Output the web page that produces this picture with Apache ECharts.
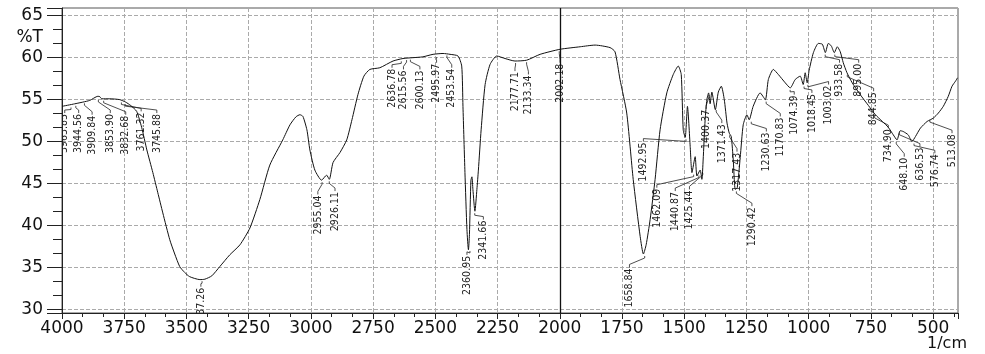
<!DOCTYPE html>
<html>
<head>
<meta charset="utf-8">
<script src="https://cdn.jsdelivr.net/npm/echarts@6/dist/echarts.min.js"></script>
<style>
html, body { margin: 0; padding: 0; background: #fff; }
#chart { width: 985px; height: 354px; }
</style>
</head>
<body>
<div id="chart"></div>
<script>
// spectrum (1/cm, %T)
var wavenumber = [4000, 3949, 3889, 3856, 3848, 3840, 3808, 3768, 3744, 3724, 3700, 3680, 3659, 3635, 3615, 3595,
	3567, 3547, 3527, 3507, 3487, 3446, 3426, 3398, 3366, 3326, 3285, 3245, 3205, 3165, 3113, 3084, 3060, 3044, 3032,
	3016, 3004, 2984, 2957, 2937, 2926, 2911, 2883, 2856, 2835, 2811, 2787, 2763, 2723, 2670, 2630, 2590, 2550, 2509,
	2469, 2441, 2409, 2394, 2389, 2381, 2373, 2367, 2363, 2357, 2353, 2349, 2341, 2333, 2327, 2316, 2300, 2280, 2253,
	2220, 2180, 2133, 2079, 1999, 1918, 1858, 1798, 1778, 1758, 1731, 1705, 1677, 1664, 1653, 1637, 1617, 1597, 1570,
	1544, 1524, 1512, 1504, 1496, 1487, 1476, 1469, 1456, 1449, 1436, 1429, 1424, 1416, 1409, 1402, 1396, 1389, 1375,
	1363, 1351, 1339, 1328, 1319, 1311, 1303, 1295, 1287, 1275, 1263, 1248, 1239, 1223, 1195, 1174, 1162, 1142, 1122,
	1094, 1074, 1054, 1034, 1022, 1014, 1006, 998, 981, 961, 945, 933, 921, 909, 897, 885, 873, 861, 846, 825, 793,
	760, 732, 704, 680, 660, 645, 632, 620, 600, 585, 571, 551, 524, 499, 479, 459, 439, 424, 410, 402];
var transmittance = [54.2, 54.5, 54.9, 55.4, 55.35, 55.1, 55.1, 55.0, 54.7, 54.3, 53.6, 51.7, 49.0, 46.3, 43.9, 41.5,
	38.3, 36.6, 35.1, 34.4, 33.9, 33.55, 33.6, 34.0, 35.1, 36.5, 37.7, 39.7, 43.1, 47.2, 50.2, 52.0, 52.95, 53.2, 53.0,
	51.4, 49.0, 46.6, 45.4, 46.0, 45.5, 47.5, 48.7, 50.2, 52.6, 55.6, 57.8, 58.6, 58.8, 59.6, 59.9, 60.0, 60.1, 60.4,
	60.5, 60.4, 60.2, 59.0, 54.2, 46.3, 39.5, 37.1, 38.9, 45.4, 45.8, 44.3, 41.7, 44.3, 46.6, 51.4, 56.8, 59.2, 60.2,
	59.9, 59.6, 59.7, 60.4, 61.0, 61.3, 61.5, 61.2, 60.7, 57.4, 53.4, 45.5, 38.7, 36.6, 37.7, 40.7, 45.5, 51.4, 55.8,
	58.0, 59.0, 58.0, 51.4, 50.5, 54.2, 49.4, 46.3, 48.2, 45.9, 46.6, 45.5, 47.8, 52.6, 55.0, 55.8, 54.5, 55.9, 53.8,
	55.9, 56.6, 55.0, 52.2, 51.0, 50.6, 47.8, 44.3, 44.5, 48.1, 52.0, 53.2, 52.6, 54.2, 55.8, 55.0, 57.4, 58.6, 58.0,
	57.0, 56.4, 57.4, 57.8, 56.8, 58.2, 57.0, 58.5, 60.6, 61.7, 61.6, 60.6, 61.7, 61.4, 60.6, 61.3, 60.7, 59.4, 58.2,
	57.0, 55.6, 54.3, 53.2, 52.4, 51.7, 50.8, 50.2, 51.3, 51.2, 50.8, 50.0, 50.6, 51.6, 52.4, 52.8, 53.4, 54.2, 55.4,
	56.6, 57.2, 57.6];

// peak picks: value, %T at the peak, where the text sits
var peakText = ['3963.85', '3944.56', '3909.84', '3853.90', '3832.68', '3761.32', '3745.88', '3437.26', '2955.04',
	'2926.11', '2636.78', '2615.56', '2600.13', '2495.97', '2453.54', '2360.95', '2341.66', '2177.71', '2133.34',
	'2002.18', '1658.84', '1492.95', '1462.09', '1440.87', '1425.44', '1400.37', '1371.43', '1317.43', '1290.42',
	'1230.63', '1170.83', '1074.39', '1018.45', '1003.02', '933.58', '895.00', '844.85', '734.90', '648.10', '636.53',
	'576.74', '513.08'];
var peakT = [54.3, 54.5, 54.8, 55.2, 55.1, 54.9, 54.7, 33.6, 45.4, 45.5, 59.8, 59.95, 60.0, 60.3, 60.5, 37.2, 41.7,
	59.6, 59.7, 61.0, 36.6, 50.5, 46.3, 46.2, 46.5, 55.8, 54.0, 51.0, 44.3, 52.6, 55.0, 56.4, 56.8, 57.0, 60.6, 60.6,
	58.2, 53.3, 50.2, 51.3, 50.0, 52.8];
var labelW = [3989, 3933, 3879, 3806, 3744, 3682, 3619, 3442, 2972, 2903, 2674, 2628, 2562, 2495, 2434, 2373, 2307,
	2180, 2126, 1999, 1720, 1664, 1610, 1536, 1479, 1412, 1349, 1288, 1228, 1170, 1114, 1058, 987, 920, 876, 799, 739,
	680, 616, 553, 493, 424];
var labelT = [53.4, 53.4, 53.2, 53.4, 53.2, 53.6, 53.4, 32.7, 43.7, 44.1, 58.8, 58.6, 58.6, 59.4, 58.8, 36.5, 40.7,
	58.4, 58.0, 59.4, 35.0, 50.0, 44.5, 44.1, 44.3, 53.9, 52.2, 48.8, 42.3, 51.2, 53.0, 55.6, 55.8, 56.8, 59.4, 59.4,
	56.0, 51.6, 48.2, 49.4, 48.6, 51.0];

var xTicks = { min: 400, max: 4000, step: 250 };
var yTicks = { min: 29.57, max: 65.92 };

// x axis runs 4000 -> 400, drawn as negative values so ticks start on 4000
var lineData = [];
for (var i = 0; i < wavenumber.length; i++) {
	lineData.push([-wavenumber[i], transmittance[i]]);
}
var peakData = [];
for (var j = 0; j < peakText.length; j++) {
	peakData.push([-parseFloat(peakText[j]), peakT[j], -labelW[j], labelT[j], peakText[j]]);
}

var axisFont = 'DejaVu Sans';
var chart = echarts.init(document.getElementById('chart'));
chart.setOption({
	animation: false,
	grid: {
		left: 62,
		right: 27,
		top: 8,
		bottom: 41,
		show: true,
		borderColor: '#555',
		borderWidth: 1
	},
	xAxis: {
		type: 'value',
		min: -xTicks.max,
		max: -xTicks.min,
		interval: xTicks.step,
		axisLine: { onZero: false, lineStyle: { color: '#222' } },
		axisTick: { length: 6, lineStyle: { color: '#222' } },
		minorTick: { show: true, splitNumber: 3, length: 4, lineStyle: { color: '#222' } },
		splitLine: { show: true, lineStyle: { color: '#aaa', type: [4, 2] } },
		axisLabel: {
			margin: 7,
			color: '#111',
			fontFamily: axisFont,
			fontSize: 17,
			showMaxLabel: false,
			formatter: function(v) {
				return v > -450 ? '' : String(-v);
			}
		}
	},
	yAxis: {
		type: 'value',
		min: yTicks.min,
		max: yTicks.max,
		splitNumber: 7,
		axisLine: { show: true, lineStyle: { color: '#222' } },
		axisTick: { show: true, length: 15, lineStyle: { color: '#222' } },
		minorTick: { show: true, splitNumber: 3, length: 9, lineStyle: { color: '#222' } },
		splitLine: { show: true, lineStyle: { color: '#aaa', type: [4, 2] } },
		axisLabel: {
			margin: 19,
			color: '#111',
			fontFamily: axisFont,
			fontSize: 17,
			formatter: function(v) {
				return Math.abs(v % 5) < 1e-6 ? String(v) : '';
			}
		}
	},
	graphic: [{
		type: 'text',
		right: 942,
		top: 29,
		style: { text: '%T', font: '17px "DejaVu Sans"', fill: '#111' }
	}, {
		type: 'text',
		right: 18,
		top: 336,
		style: { text: '1/cm', font: '16px "DejaVu Sans"', fill: '#111' }
	}],
	series: [{
		type: 'line',
		data: lineData,
		showSymbol: false,
		smooth: 0.2,
		lineStyle: { color: '#111', width: 1 },
		markLine: {
			silent: true,
			symbol: 'none',
			label: { show: false },
			lineStyle: { color: '#111', type: 'solid', width: 1.3 },
			data: [{ xAxis: -2000 }]
		}
	}, {
		type: 'custom',
		clip: true,
		data: peakData,
		renderItem: function(params, api) {
			var p0 = api.coord([api.value(0), api.value(1)]);
			var p2 = api.coord([api.value(2), api.value(3)]);
			var text = peakText[params.dataIndex];
			return {
				type: 'group',
				children: [{
					type: 'polyline',
					shape: { points: [[p0[0], p0[1] + 2], [p0[0], p0[1] + 4], [p2[0], p2[1] - 3], [p2[0], p2[1]]] },
					style: { stroke: '#222', lineWidth: 0.8, fill: null }
				}, {
					type: 'text',
					x: p2[0],
					y: p2[1] + 1,
					rotation: Math.PI / 2,
					style: {
						text: text,
						align: 'right',
						verticalAlign: 'middle',
						font: '10.5px "Liberation Sans Narrow", "DejaVu Sans Condensed", sans-serif',
						fill: '#222'
					}
				}]
			};
		}
	}]
});
</script>
</body>
</html>
